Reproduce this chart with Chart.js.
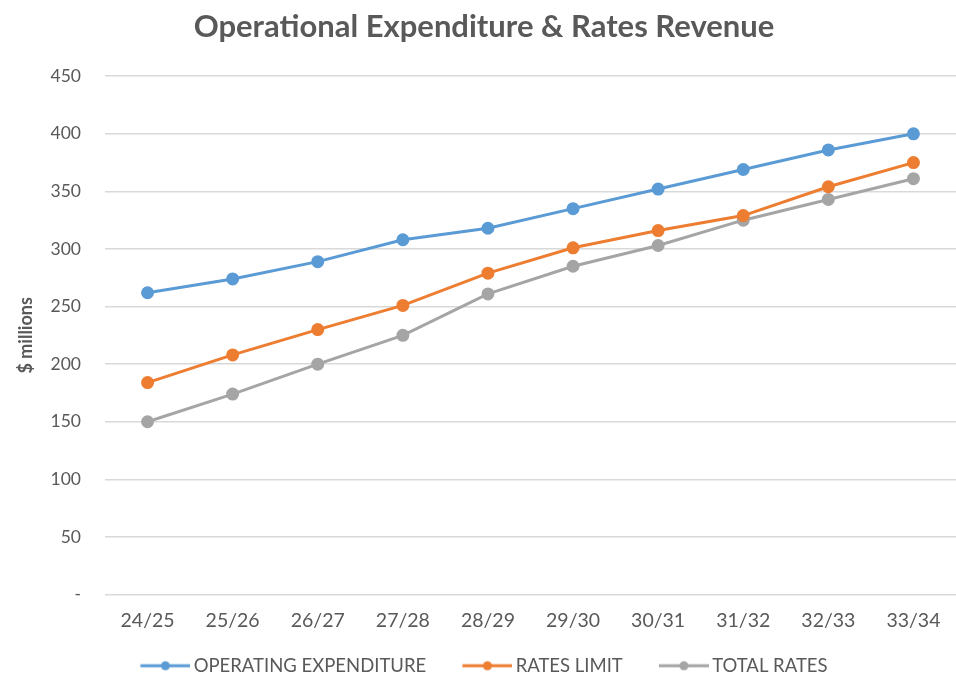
<!DOCTYPE html>
<html>
<head>
<meta charset="utf-8">
<script src="https://cdn.jsdelivr.net/npm/chart.js@4"></script>
<style>
  html, body { margin: 0; padding: 0; background: #fff; }
  #wrap { width: 956px; height: 678px; position: relative; }
</style>
</head>
<body>
<div id="wrap"><canvas id="myChart"></canvas></div>
<script>
var years = ['24/25', '25/26', '26/27', '27/28', '28/29', '29/30', '30/31', '31/32', '32/33', '33/34'];
var opex = [262, 274, 289, 308, 318, 335, 352, 369, 386, 400];
var ratesLimit = [184, 208, 230, 251, 279, 301, 316, 329, 354, 375];
var totalRates = [150, 174, 200, 225, 261, 285, 303, 325, 343, 361];
var yTicks = [0, 50, 100, 150, 200, 250, 300, 350, 400, 450];

var blue = '#5b9bd5';
var orange = '#ed7d31';
var grey = '#a5a5a5';
var textCol = '#595959';

// legend marker: line with a dot in the middle, like excel
// (drawn 6px to the right so it sits close to the text)
function marker(color) {
    var c = document.createElement('canvas');
    c.width = 56; c.height = 12;
    var g = c.getContext('2d');
    g.strokeStyle = color;
    g.lineWidth = 3;
    g.beginPath(); g.moveTo(6, 6); g.lineTo(56, 6); g.stroke();
    g.fillStyle = color;
    g.beginPath(); g.arc(31, 6, 4.5, 0, Math.PI * 2); g.fill();
    return c;
}

function series(label, values, color) {
    return {
        label: label,
        data: values,
        borderColor: color,
        backgroundColor: color,
        borderWidth: 3,
        pointRadius: 5,
        pointHoverRadius: 5,
        pointBackgroundColor: color,
        pointBorderColor: color,
        pointStyle: 'circle',
        tension: 0
    };
}

var ctx = document.getElementById('myChart').getContext('2d');
var chart = new Chart(ctx, {
    type: 'line',
    data: {
        labels: years,
        datasets: [
            series('OPERATING EXPENDITURE', opex, blue),
            series('RATES LIMIT', ratesLimit, orange),
            series('TOTAL RATES', totalRates, grey)
        ]
    },
    options: {
        responsive: true,
        maintainAspectRatio: false,
        animation: false,
        layout: { autoPadding: false, padding: { left: 10, right: -2, top: 8, bottom: -7 } },
        plugins: {
            title: {
                display: true,
                text: 'Operational Expenditure & Rates Revenue',
                color: textCol,
                font: { family: 'Lato', size: 31, weight: 'bold' },
                padding: { top: 0, bottom: 31 }
            },
            legend: {
                position: 'bottom',
                labels: {
                    usePointStyle: true,
                    pointStyleWidth: 44,
                    color: textCol,
                    font: { family: 'Lato', size: 18.5 },
                    padding: 3,
                    generateLabels: function (ch) {
                        var n = ch.data.datasets.length;
                        return ch.data.datasets.map(function (d, i) {
                            return {
                                text: i < n - 1 ? d.label + '       ' : d.label,
                                fillStyle: d.borderColor,
                                strokeStyle: d.borderColor,
                                fontColor: textCol,
                                lineWidth: 0,
                                pointStyle: marker(d.borderColor),
                                hidden: false,
                                datasetIndex: i
                            };
                        });
                    }
                }
            },
            tooltip: { enabled: false }
        },
        scales: {
            x: {
                offset: true,
                grid: { display: false },
                border: { display: false },
                ticks: { color: textCol, font: { family: 'Lato', size: 19.5 }, padding: 7 },
                afterFit: function (s) { s.paddingLeft = 0; s.paddingRight = 0; s.height = 59; }
            },
            y: {
                min: 0,
                max: 450,
                afterBuildTicks: function (axis) {
                    axis.ticks = yTicks.map(function (v) { return { value: v }; });
                },
                afterFit: function (axis) { axis.width = 95; },
                grid: { color: '#d9d9d9', lineWidth: 1.5, drawTicks: false },
                border: { display: false },
                title: {
                    display: true,
                    text: '$ millions',
                    color: textCol,
                    font: { family: 'Lato', size: 18, weight: 'bold' },
                    padding: { top: 5, bottom: 0 }
                },
                ticks: {
                    color: textCol,
                    font: { family: 'Lato', size: 17.5 },
                    padding: 24,
                    callback: function (v) { return v === 0 ? '-' : v; }
                }
            }
        }
    }
});
</script>
</body>
</html>
